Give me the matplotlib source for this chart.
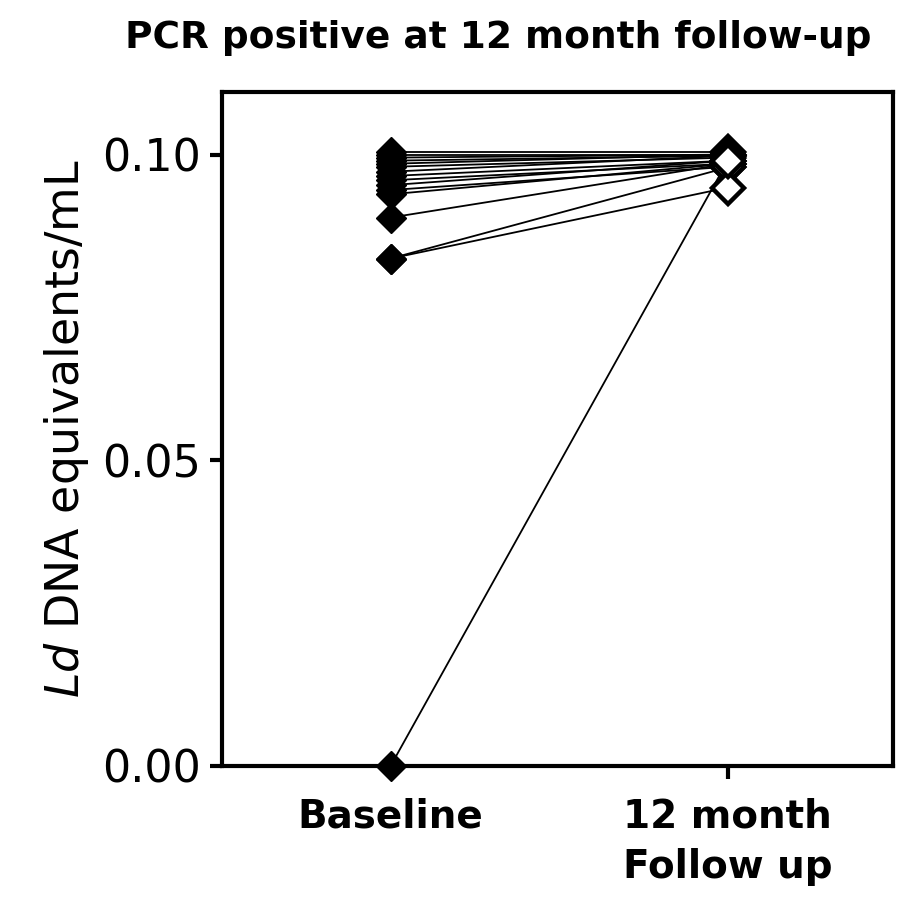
import matplotlib
matplotlib.use("Agg")
import matplotlib.pyplot as plt
from matplotlib.ticker import FormatStrFormatter

plt.rcParams['font.family'] = ['DejaVu Sans']
plt.rcParams['mathtext.fontset'] = 'custom'
plt.rcParams['mathtext.it'] = 'DejaVu Sans:italic'
plt.rcParams['mathtext.rm'] = 'DejaVu Sans'

categories = ["Baseline", "12 month\nFollow up"]
baseline = [0.1005, 0.1000, 0.0995, 0.0990, 0.0985, 0.0980, 0.0972, 0.0965,
            0.0958, 0.0950, 0.0942, 0.0935, 0.0897, 0.0830, 0.0830, 0.0]
followup = [0.1005, 0.1000, 0.1000, 0.0998, 0.1000, 0.0995, 0.0998, 0.0990,
            0.0985, 0.0990, 0.0980, 0.0985, 0.0985, 0.0979, 0.0946, 0.0990]
y_ticks = [0.00, 0.05, 0.10]

fig = plt.figure(figsize=(8.97, 8.98), dpi=100)
ax = fig.add_axes([0.2475, 0.147, 0.748, 0.751])

xpos = [0, 1]
for b, f in zip(baseline, followup):
    ax.plot(xpos, [b, f], color='black', lw=1.3, zorder=2)
    ax.plot(xpos[0], b, marker='D', ms=15, color='black', mec='black', zorder=3, clip_on=False)
    ax.plot(xpos[1], f, marker='D', ms=16, mfc='white', mec='black', mew=3.2, zorder=3, clip_on=False)

ax.set_xlim(-0.5, 1.49)
ax.set_ylim(0, 0.1103)
ax.set_yticks(y_ticks)
ax.yaxis.set_major_formatter(FormatStrFormatter('%.2f'))
ax.set_xticks(xpos)
ax.set_xticklabels(categories, fontsize=28, fontweight='bold', linespacing=1.4)

for s in ax.spines.values():
    s.set_linewidth(3)
ax.tick_params(axis='both', which='major', width=3, length=9, direction='out')
ax.tick_params(axis='y', labelsize=32, pad=6)
ax.tick_params(axis='x', pad=14)

ax.set_ylabel(r'$\mathit{Ld}$ DNA equivalents/mL', fontsize=33, labelpad=8)
fig.suptitle('PCR positive at 12 month follow-up', fontsize=27, fontweight='bold',
             x=0.555, y=0.978)

fig.savefig('out.png', dpi=100)
